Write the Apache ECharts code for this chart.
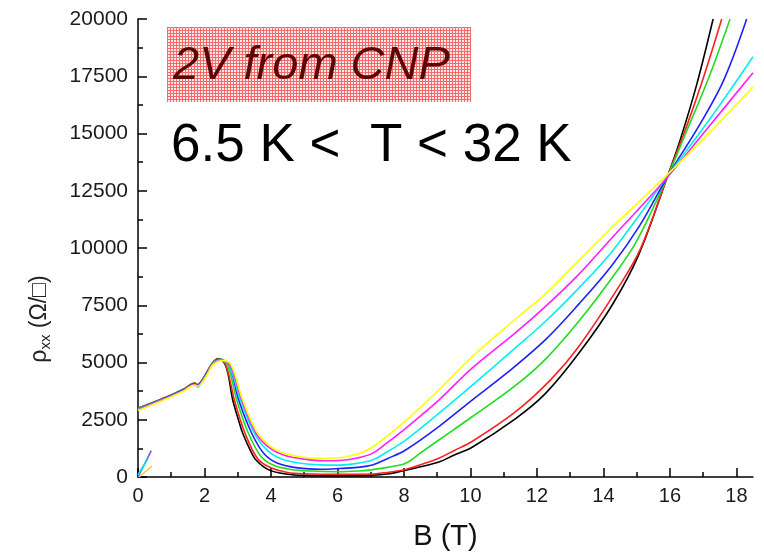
<!DOCTYPE html>
<html>
<head>
<meta charset="utf-8">
<script src="https://cdn.jsdelivr.net/npm/echarts@6/dist/echarts.min.js"></script>
<style>
html,body{margin:0;padding:0;background:#fff;}
#chart{width:764px;height:557px;}
</style>
</head>
<body>
<div id="chart"></div>
<script>
// ---- Data (B in tesla, rho_xx in ohm/square) ----
const xTickLabels = [0, 2, 4, 6, 8, 10, 12, 14, 16, 18];
const xMinorTicks = [1, 3, 5, 7, 9, 11, 13, 15, 17];
const yMinorTicks = [1250, 3750, 6250, 8750, 11250, 13750, 16250, 18750];

const B_black = [0,0.5,1.0,1.4,1.7,1.8,1.9,2.1,2.25,2.42,2.65,2.85,3.05,3.15,3.35,3.55,3.95,4.5,5.0,6.0,7.0,7.5,8.05,8.5,9.05,9.5,10.05,11.36,12.26,13.26,14.26,15.06,15.96,16.31,16.8,17.3];
const R_black = [3000,3280,3580,3850,4090,4030,4170,4650,5000,5170,4820,3360,2360,1910,1250,740,300,120,70,50,70,130,300,450,650,950,1300,2550,3650,5400,7500,9700,13260,14720,17100,20000];

const B_red = [0,0.5,1.0,1.4,1.7,1.8,1.9,2.1,2.25,2.44,2.65,2.9,3.22,3.6,4.0,4.5,5.0,6.0,7.0,7.5,8.05,8.5,9.05,9.5,10.05,11.36,12.41,13.26,14.46,15.11,15.96,16.5,17.0,17.56];
const R_red = [3000,3290,3580,3860,4100,4030,4160,4640,4990,5160,4850,3360,1910,800,400,200,140,115,130,200,330,540,820,1150,1550,2850,4240,5700,8300,9950,13240,15300,17400,20000];

const B_green = [0,0.5,1.0,1.4,1.7,1.8,1.9,2.1,2.25,2.46,2.7,2.97,3.32,3.7,4.1,4.6,5.2,6.0,6.6,7.0,7.5,8.05,8.5,9.05,10.05,11.36,12.26,13.26,14.26,15.0,15.96,16.5,17.16,17.81];
const R_green = [2990,3270,3570,3840,4090,4010,4140,4620,4980,5150,4850,3360,1910,900,500,330,260,230,260,310,420,600,1050,1615,2630,4000,5150,6800,8700,10300,13220,15100,17400,20000];

const B_blue = [0,0.5,1.0,1.4,1.7,1.8,1.9,2.1,2.25,2.48,2.75,3.03,3.42,3.8,4.2,4.8,5.5,6.05,6.6,7.05,7.5,8.05,9.05,10.05,11.06,12.26,13.26,14.26,15.1,15.96,16.86,17.61,18.31];
const R_blue = [2980,3260,3560,3830,4070,3990,4120,4600,4960,5140,4850,3360,1910,1000,600,400,340,370,420,520,800,1180,2200,3360,4500,6000,7550,9250,11000,13200,15300,17300,20000];

const B_cyan = [0,0.5,1.0,1.4,1.7,1.8,1.9,2.1,2.25,2.5,2.75,3.08,3.5,3.9,4.3,4.9,5.5,6.05,6.6,7.05,7.5,8.05,9.05,10.05,11.36,12.26,13.26,14.26,15.96,17.31,18.5];
const R_cyan = [2960,3240,3540,3800,4030,3920,4080,4580,4950,5120,4850,3360,1910,1150,800,600,530,520,600,740,1100,1615,2780,4000,5650,6800,8250,9850,13200,15850,18350];

const B_magenta = [0,0.5,1.0,1.4,1.7,1.8,1.9,2.1,2.25,2.52,2.78,3.12,3.55,3.95,4.4,5.0,5.6,6.05,6.6,7.05,7.5,8.05,9.05,10.05,11.36,12.26,13.26,14.26,15.9,17.2,18.5];
const R_magenta = [2940,3230,3530,3800,4050,3980,4100,4560,4930,5100,4850,3360,1910,1280,950,780,710,720,830,1030,1500,2125,3360,4750,6300,7450,8850,10450,13050,15350,17650];

const B_yellow = [0,0.5,1.0,1.4,1.7,1.8,1.9,2.1,2.25,2.55,2.8,3.15,3.6,4.15,4.85,5.5,6.05,6.6,7.05,7.5,8.05,9.05,10.05,11.36,12.26,13.26,14.26,15.86,17.2,18.5];
const R_yellow = [2900,3200,3500,3780,4020,3960,4070,4520,4900,5080,4900,3360,1910,1180,890,820,840,1000,1300,1800,2450,3800,5250,6900,8000,9450,10900,13110,15050,17030];

// short initial sweeps near the origin
const B_blueStart = [0, 0.4];
const R_blueStart = [0, 1150];
const B_cyanStart = [0, 0.3];
const R_cyanStart = [100, 800];
const B_yellowStart = [0.03, 0.42];
const R_yellowStart = [0, 470];

const seriesDefs = [
  {name: 'black',   color: '#000000', B: B_black,   R: R_black},
  {name: 'red',     color: '#ff2020', B: B_red,     R: R_red},
  {name: 'green',   color: '#20dd20', B: B_green,   R: R_green},
  {name: 'blue',    color: '#2020ff', B: B_blue,    R: R_blue},
  {name: 'cyan',    color: '#00f0f0', B: B_cyan,    R: R_cyan},
  {name: 'magenta', color: '#ff20ff', B: B_magenta, R: R_magenta},
  {name: 'yellow',  color: '#ffff00', B: B_yellow,  R: R_yellow},
  {name: 'blueStart',   color: '#6060ff', B: B_blueStart,   R: R_blueStart},
  {name: 'cyanStart',   color: '#00e0e0', B: B_cyanStart,   R: R_cyanStart},
  {name: 'yellowStart', color: '#e8d040', B: B_yellowStart, R: R_yellowStart}
];

const zip = (a, b) => a.map((v, i) => [v, b[i]]);

const FONT = '"Liberation Sans", Arial, Helvetica, sans-serif';

// fine grid pattern for the label box
const pc = document.createElement('canvas');
pc.width = 3; pc.height = 3;
const pctx = pc.getContext('2d');
pctx.fillStyle = '#fde8e8';
pctx.fillRect(0, 0, 3, 3);
pctx.fillStyle = '#f46a6a';
pctx.fillRect(0, 0, 3, 1);
pctx.fillRect(0, 0, 1, 3);

const chart = echarts.init(document.getElementById('chart'), null, {renderer: 'canvas'});

const option = {
  animation: false,
  backgroundColor: '#ffffff',
  grid: {left: 138, right: 11, top: 19, bottom: 80, containLabel: false},
  xAxis: [
    {
      type: 'value', min: 0, max: 18.5,
      name: 'B (T)', nameLocation: 'middle', nameGap: 45,
      nameTextStyle: {fontFamily: FONT, fontSize: 29, color: '#111'},
      axisLine: {show: true, lineStyle: {color: '#000', width: 1.5}},
      axisTick: {show: true, inside: true, length: 9, lineStyle: {color: '#000', width: 1.5}, customValues: xTickLabels},
      axisLabel: {show: true, margin: 9, fontFamily: FONT, fontSize: 20, color: '#1a1a1a', customValues: xTickLabels},
      splitLine: {show: false}
    },
    {
      type: 'value', min: 0, max: 18.5, position: 'bottom', gridIndex: 0,
      axisLine: {show: false},
      axisTick: {show: true, inside: true, length: 5, lineStyle: {color: '#000', width: 1.5}, customValues: xMinorTicks},
      axisLabel: {show: false},
      splitLine: {show: false}
    }
  ],
  yAxis: [
    {
      type: 'value', min: 0, max: 20000, interval: 2500,
      axisLine: {show: true, lineStyle: {color: '#000', width: 1.5}},
      axisTick: {show: true, inside: true, length: 9, lineStyle: {color: '#000', width: 1.5}},
      axisLabel: {margin: 10, fontFamily: FONT, fontSize: 21, color: '#1a1a1a', formatter: v => String(v)},
      splitLine: {show: false}
    },
    {
      type: 'value', min: 0, max: 20000, position: 'left', gridIndex: 0,
      axisLine: {show: false},
      axisTick: {show: true, inside: true, length: 5, lineStyle: {color: '#000', width: 1.5}, customValues: yMinorTicks},
      axisLabel: {show: false},
      splitLine: {show: false}
    }
  ],
  series: seriesDefs.map(s => ({
    name: s.name,
    type: 'line',
    xAxisIndex: 0,
    yAxisIndex: 0,
    data: zip(s.B, s.R),
    showSymbol: false,
    smooth: 0.35,
    clip: true,
    lineStyle: {color: s.color, width: 1.6},
    itemStyle: {color: s.color},
    z: 2
  })),
  graphic: [
    {
      type: 'rect', left: 167, top: 27, z: 10,
      shape: {width: 304, height: 75},
      style: {fill: {image: pc, repeat: 'repeat'}}
    },
    {
      type: 'text', x: 173, y: 66, z: 11,
      style: {text: '2V from CNP', x: 0, y: 0, textAlign: 'left', textVerticalAlign: 'middle',
        fontFamily: FONT, fontSize: 47, fontStyle: 'italic', fill: '#5e0505'}
    },
    {
      type: 'text', x: 171, y: 146, z: 11,
      style: {text: '6.5 K <  T < 32 K', x: 0, y: 0, textAlign: 'left', textVerticalAlign: 'middle',
        fontFamily: FONT, fontSize: 53, fill: '#000'}
    },
    {
      type: 'text', x: 40, y: 319, rotation: Math.PI / 2, z: 11,
      style: {
        text: '{r|ρ}{s|xx}{r| (Ω/□)}', x: 0, y: 0, textAlign: 'center', textVerticalAlign: 'middle',
        fontFamily: FONT, fontSize: 23, fill: '#222',
        rich: {
          r: {fontFamily: FONT, fontSize: 23, fill: '#222', color: '#222'},
          s: {fontFamily: FONT, fontSize: 15, fill: '#222', color: '#222', padding: [12, 0, 0, 0]}
        }
      }
    }
  ]
};

chart.setOption(option);
</script>
</body>
</html>
